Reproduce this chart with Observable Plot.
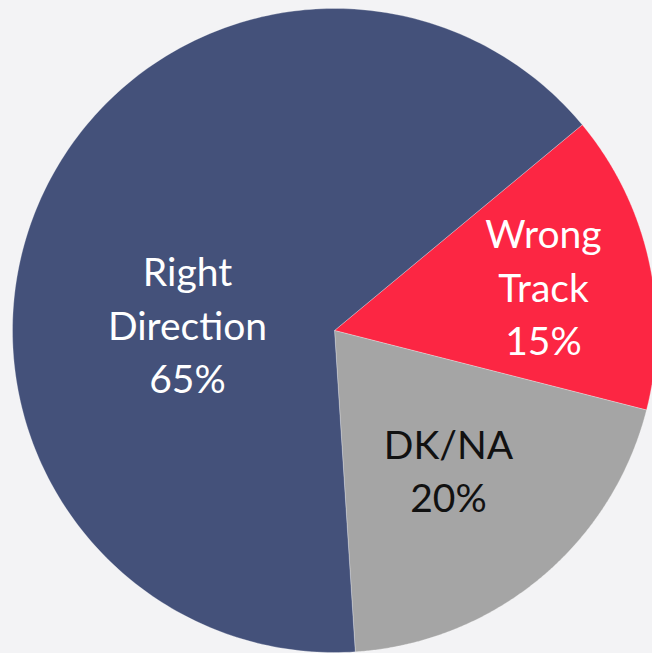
<!DOCTYPE html>
<html>
<head>
<meta charset="utf-8">
<script src="https://cdn.jsdelivr.net/npm/d3@7"></script>
<script src="https://cdn.jsdelivr.net/npm/@observablehq/plot@0.6"></script>
<style>
  html, body { margin: 0; padding: 0; background: #f3f3f5; }
  #chart { width: 652px; height: 653px; overflow: hidden; }
</style>
</head>
<body>
<div id="chart"></div>
<script>
// Data
const categories = ["Wrong Track", "DK/NA", "Right Direction"];
const values = [15, 20, 65];
const labels = ["Wrong\nTrack\n15%", "DK/NA\n20%", "Right\nDirection\n65%"];

// Styling / layout (not data)
const colors = ["#fc2643", "#a5a5a5", "#44517a"];
const textColors = ["#ffffff", "#111111", "#ffffff"];
const W = 652, H = 653;
const cx = 334, cy = 330, R = 322;
const startDeg = 50.3;
const labelOffsets = [[209, -46], [114, 138], [-147, -8]];

const rows = categories.map((c, i) => ({cat: c, value: values[i], label: labels[i], i}));
const arcs = d3.pie().sort(null).value(d => d.value)
  .startAngle(startDeg * Math.PI / 180)
  .endAngle(startDeg * Math.PI / 180 + 2 * Math.PI)(rows);

const poly = [];
arcs.forEach(a => {
  const n = 240;
  poly.push({cat: a.data.cat, x: cx, y: cy});
  for (let k = 0; k <= n; k++) {
    const t = a.startAngle + (a.endAngle - a.startAngle) * k / n;
    poly.push({cat: a.data.cat, x: cx + R * Math.sin(t), y: cy - R * Math.cos(t)});
  }
  poly.push({cat: a.data.cat, x: cx, y: cy});
});

const labelRows = rows.map((d, i) => ({
  ...d, x: cx + labelOffsets[i][0], y: cy + labelOffsets[i][1], tc: textColors[i]
}));

const chart = Plot.plot({
  width: W, height: H,
  margin: 0,
  style: {background: "transparent", fontFamily: "Lato, 'Open Sans', sans-serif"},
  x: {type: "identity", axis: null},
  y: {type: "identity", axis: null},
  color: {domain: categories, range: colors},
  marks: [
    Plot.line(poly, {x: "x", y: "y", z: "cat", fill: "cat", stroke: "#ffffff", strokeOpacity: 0.35, strokeWidth: 0.8}),
    Plot.text(labelRows, {
      x: "x", y: "y", text: "label", fill: d => d.tc,
      fontSize: 39, lineHeight: 1.372, textAnchor: "middle", lineAnchor: "middle"
    })
  ]
});
document.getElementById("chart").appendChild(chart);
</script>
</body>
</html>
